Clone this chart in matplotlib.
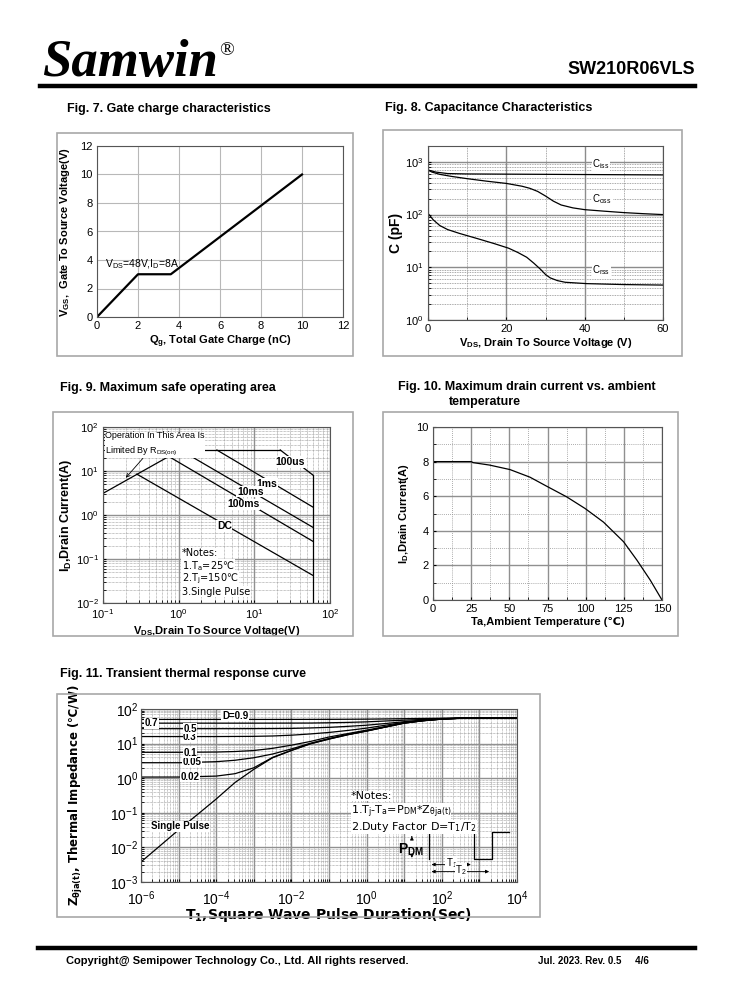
import numpy as np
import matplotlib
matplotlib.use('Agg')
import matplotlib.pyplot as plt
from matplotlib.patches import Rectangle
from matplotlib.ticker import MultipleLocator, LogLocator, NullFormatter

plt.rcParams['font.family'] = ['Liberation Sans', 'DejaVu Sans']
plt.rcParams['mathtext.default'] = 'regular'
plt.rcParams['font.size'] = 8
plt.rcParams['axes.linewidth'] = 0.8

W, H = 738, 1000

# ---- Fig. 7 gate charge ----
qg = [0, 2.0, 3.6, 10.0]
vgs = [0, 3.0, 3.0, 10.0]

# ---- Fig. 8 capacitance ----
ciss_v = [0, 2, 5, 10, 20, 30, 40, 50, 60]
ciss_c = [700, 640, 600, 590, 585, 580, 575, 570, 565]
coss_v = [0, 1, 3, 6, 10, 15, 20, 24, 26, 28, 30, 32, 34, 37, 40, 45, 50, 55, 60]
coss_c = [700, 640, 580, 530, 480, 430, 390, 345, 315, 275, 225, 180, 152, 134, 124, 116, 109, 104, 100]
crss_v = [0, 0.5, 1.3, 3, 5, 8, 13.2, 17, 20.6, 23, 25.2, 27, 28.7, 30, 31.2, 33, 35, 40.5, 50, 60]
crss_c = [105, 95, 80, 62, 52, 44, 34, 28, 23, 19, 15.5, 12, 9.2, 7.3, 6.3, 5.6, 5.2, 4.9, 4.7, 4.6]

# ---- Fig. 9 SOA ----
rds_v, rds_i = [0.1, 1.05], [3.1, 30]
top_v, top_i = [1.05, 22], [30, 30]
us100_v, us100_i = [22, 60], [30, 8]
ms1_v, ms1_i = [3.2, 60], [30, 1.5]
ms10_v, ms10_i = [1.05, 60], [30, 0.52]
ms100_v, ms100_i = [0.72, 60], [22, 0.25]
dc_v, dc_i = [0.28, 60], [8.5, 0.042]
vmax_v, vmax_i = [60, 60], [0.01, 8]

# ---- Fig. 10 derating ----
ta = [0, 25, 26.3, 37, 50.4, 63.5, 74.4, 87.6, 99.6, 111.7, 124.8, 133.6, 142.3, 150]
id_a = [8, 8, 7.94, 7.8, 7.54, 7.1, 6.58, 5.96, 5.29, 4.5, 3.37, 2.3, 1.15, 0]

# ---- Fig. 11 transient thermal ----
t_single = [1e-6, 10**-5.5, 1e-5, 10**-4.5, 1e-4, 10**-3.5, 1e-3, 10**-2.5, 1e-2, 10**-1.5,
            1e-1, 10**-0.5, 1, 10**0.5, 10, 10**1.5, 100, 10**2.5, 1e3, 1e4]
z_single = [0.0038, 0.011, 0.032, 0.089, 0.25, 0.75, 1.8, 3.9, 6.3, 9.8,
            13.5, 18, 23, 30, 39, 45.7, 51, 54, 55, 55]
t_d = [1e-6, 1e-5, 1e-4, 10**-3.5, 1e-3, 10**-2.5, 1e-2, 10**-1.5, 1e-1, 10**-0.5,
       1, 10**0.5, 10, 10**1.5, 100, 10**2.5, 1e3, 1e4]
z_d002 = [1.08, 1.08, 1.15, 1.35, 2.0, 4.0, 6.4, 9.9, 13.6, 18.1, 23.1, 30.1, 39.1, 45.8, 51, 54, 55, 55]
z_d005 = [2.8, 2.8, 3.0, 3.3, 3.9, 5.0, 7.0, 10.2, 14, 18.5, 23.5, 30.4, 39.3, 45.9, 51.1, 54, 55, 55]
z_d01 = [5.6, 5.6, 5.7, 5.9, 6.3, 7.3, 9.0, 11.5, 15.5, 19.5, 24.5, 31, 40, 46.2, 51.2, 54, 55, 55]
z_d03 = [16, 16, 16, 16.1, 16.2, 16.6, 17.5, 19, 21, 24, 28, 34, 41, 47, 52, 54.2, 55, 55]
z_d05 = [27, 27, 27, 27, 27.1, 27.2, 27.5, 28.3, 29.5, 31.5, 34, 38, 43, 48, 52, 54.3, 55, 55]
z_d07 = [39, 39, 39, 39, 39, 39.1, 39.2, 39.3, 40, 41, 42.5, 45, 47.5, 50, 53, 54.5, 55, 55]
z_d09 = [50, 50, 50, 50, 50, 50, 50.1, 50.2, 50.3, 50.6, 51, 51.7, 52.5, 53.3, 54, 54.8, 55, 55]
d_labels = ['0.02', '0.05', '0.1', '0.3', '0.5', '0.7', 'D=0.9']
pulse_t = [45, 45, 700, 700, 2150, 2150, 6000]
pulse_z = [0.0046, 0.027, 0.027, 0.0046, 0.0046, 0.027, 0.027]

fig = plt.figure(figsize=(W / 100, H / 100), dpi=100)


def ax_px(l, t, r, b):
    return fig.add_axes([l / W, 1 - b / H, (r - l) / W, (b - t) / H])


def box_px(l, t, r, b):
    fig.add_artist(Rectangle((l / W, 1 - b / H), (r - l) / W, (b - t) / H,
                             transform=fig.transFigure, fill=False, ec='#a8a8a8', lw=1.2))


def ftext(x, y, s, **kw):
    fig.text(x / W, 1 - y / H, s, **kw)


def style_ax(ax):
    for sp in ax.spines.values():
        sp.set_color('#555555')
    ax.tick_params(which='both', direction='in', length=2, labelsize=8, pad=3)


# header / footer
ftext(42, 76, 'Samwin', family=['Liberation Serif', 'DejaVu Serif'], weight='bold',
      style='italic', fontsize=38, va='baseline')
ftext(219, 55, '®', family=['Liberation Serif', 'DejaVu Serif'], fontsize=14, va='baseline')
ftext(695, 74, 'SW210R06VLS', weight='bold', fontsize=13, ha='right', va='baseline')
fig.add_artist(plt.Line2D([40 / W, 695 / W], [1 - 86 / H, 1 - 86 / H], color='black', lw=3.2))
fig.add_artist(plt.Line2D([38 / W, 695 / W], [1 - 948 / H, 1 - 948 / H], color='black', lw=3.2))
ftext(66, 964, 'Copyright@ Semipower Technology Co., Ltd. All rights reserved.',
      weight='bold', fontsize=8, va='baseline')
ftext(538, 964, 'Jul. 2023. Rev. 0.5     4/6', weight='bold', fontsize=7, va='baseline')

# titles
tkw = dict(weight='bold', fontsize=9, va='baseline')
ftext(67, 112, 'Fig. 7. Gate charge characteristics', **tkw)
ftext(385, 111, 'Fig. 8. Capacitance Characteristics', **tkw)
ftext(60, 391, 'Fig. 9. Maximum safe operating area', **tkw)
ftext(398, 390, 'Fig. 10. Maximum drain current vs. ambient', **tkw)
ftext(449, 405, 'temperature', **tkw)
ftext(60, 677, 'Fig. 11. Transient thermal response curve', **tkw)

box_px(57, 133, 353, 356)
box_px(383, 130, 682, 356)
box_px(53, 412, 353, 636)
box_px(383, 412, 678, 636)
box_px(57, 694, 540, 917)

# ---- Fig 7 ----
ax = ax_px(97, 146, 343, 317)
style_ax(ax)
ax.plot(qg, vgs, color='black', lw=1.6)
ax.set_xlim(0, 12)
ax.set_ylim(0, 12)
ax.set_xticks(range(0, 13, 2))
ax.set_yticks(range(0, 13, 2))
ax.grid(True, color='#b8b8b8', lw=0.8)
ax.tick_params(length=0)
ax.text(0.4, 3.2, 'V$_{DS}$=48V,I$_D$=8A', fontsize=7.5, va='bottom')
ax.set_xlabel('Q$_g$, Total Gate Charge (nC)', weight='bold', fontsize=8, labelpad=2)
ax.set_ylabel('V$_{GS}$,  Gate To Source Voltage(V)', weight='bold', fontsize=8, labelpad=6)

# ---- Fig 8 ----
ax = ax_px(428, 146, 663, 320)
style_ax(ax)
ax.set_yscale('log')
ax.plot(ciss_v, ciss_c, color='black', lw=0.9)
ax.plot(coss_v, coss_c, color='black', lw=0.9)
ax.plot(crss_v, crss_c, color='black', lw=0.9)
ax.set_xlim(0, 60)
ax.set_ylim(1, 2000)
ax.set_xticks([0, 20, 40, 60])
ax.xaxis.set_minor_locator(MultipleLocator(10))
ax.set_yticks([1, 10, 100, 1000])
ax.yaxis.set_minor_locator(LogLocator(base=10, subs=np.arange(2, 10), numticks=20))
ax.yaxis.set_minor_formatter(NullFormatter())
ax.grid(True, which='major', color='#8c8c8c', lw=1.0)
ax.grid(True, which='minor', color='#8c8c8c', lw=0.6, ls=(0, (1, 1)))
lkw = dict(fontsize=7, bbox=dict(fc='white', ec='none', pad=0.5))
ax.text(42, 800, 'C$_{iss}$', **lkw)
ax.text(42, 170, 'C$_{oss}$', **lkw)
ax.text(42, 7.6, 'C$_{rss}$', **lkw)
ax.set_xlabel('V$_{DS}$, Drain To Source Voltage (V)', weight='bold', fontsize=8, labelpad=1)
ax.set_ylabel('C (pF)', weight='bold', fontsize=10, labelpad=2)

# ---- Fig 9 ----
ax = ax_px(103, 427, 330, 603)
style_ax(ax)
ax.set_xscale('log')
ax.set_yscale('log')
ax.set_xlim(0.1, 100)
ax.set_ylim(0.01, 100)
ax.grid(True, which='major', color='#909090', lw=1.0)
ax.grid(True, which='minor', color='#909090', lw=0.5, ls=(0, (1, 1)))
for xs, ys in [(rds_v, rds_i), (top_v, top_i), (us100_v, us100_i), (ms1_v, ms1_i),
               (ms10_v, ms10_i), (ms100_v, ms100_i), (dc_v, dc_i), (vmax_v, vmax_i)]:
    ax.plot(xs, ys, color='black', lw=0.9)
bkw = dict(fontsize=7.5, weight='bold', ha='center', va='center',
           bbox=dict(fc='white', ec='none', pad=0.6))
ax.text(30, 16, '100us', **bkw)
ax.text(14.6, 5.0, '1ms', **bkw)
ax.text(8.8, 3.4, '10ms', **bkw)
ax.text(7.2, 1.74, '100ms', **bkw)
ax.text(4.0, 0.56, 'DC', **bkw)
ax.annotate('Operation In This Area Is\nLimited By R$_{DS(on)}$', xy=(0.2, 7.0), xytext=(0.107, 20),
            fontsize=6.5, va='bottom', linespacing=1.5,
            bbox=dict(fc='white', ec='none', pad=0.3),
            arrowprops=dict(arrowstyle='->', color='black', lw=0.6, shrinkA=0, shrinkB=0))
nkw = dict(fontsize=7, va='center', family=['DejaVu Sans'],
           bbox=dict(fc='white', ec='none', pad=0.3))
ax.text(1.1, 0.135, '*Notes:', **nkw)
ax.text(1.1, 0.068, '1.T$_a$=25℃', **nkw)
ax.text(1.1, 0.036, '2.T$_j$=150℃', **nkw)
ax.text(1.1, 0.018, '3.Single Pulse', **nkw)
ax.set_xlabel('V$_{DS}$,Drain To Source Voltage(V)', weight='bold', fontsize=8, labelpad=2)
ax.set_ylabel('I$_D$,Drain Current(A)', weight='bold', fontsize=9, labelpad=1)

# ---- Fig 10 ----
ax = ax_px(433, 427, 662, 600)
style_ax(ax)
ax.plot(ta, id_a, color='black', lw=0.9)
ax.set_xlim(0, 150)
ax.set_ylim(0, 10)
ax.set_xticks(range(0, 151, 25))
ax.set_yticks(range(0, 11, 2))
ax.xaxis.set_minor_locator(MultipleLocator(12.5))
ax.yaxis.set_minor_locator(MultipleLocator(1))
ax.grid(True, which='major', color='#909090', lw=1.0)
ax.grid(True, which='minor', color='#909090', lw=0.6, ls=(0, (1, 1.5)))
ax.set_xlabel('Ta,Ambient Temperature (℃)', weight='bold', fontsize=8, labelpad=2)
ax.set_ylabel('I$_D$,Drain Current(A)', weight='bold', fontsize=8, labelpad=4)

# ---- Fig 11 ----
ax = ax_px(141, 709, 517, 882)
style_ax(ax)
ax.set_xscale('log')
ax.set_yscale('log')
ax.set_xlim(1e-6, 1e4)
ax.set_ylim(1e-3, 1e2)
decades = [10.0 ** k for k in range(-6, 5)]
ax.set_xticks(decades)
ax.set_xticklabels(['$10^{%d}$' % k if k % 2 == 0 else '' for k in range(-6, 5)])
ax.xaxis.set_minor_locator(LogLocator(base=10, subs=np.arange(2, 10), numticks=30))
ax.xaxis.set_minor_formatter(NullFormatter())
ax.yaxis.set_minor_locator(LogLocator(base=10, subs=np.arange(2, 10), numticks=30))
ax.yaxis.set_minor_formatter(NullFormatter())
ax.tick_params(labelsize=10, pad=2)
ax.tick_params(axis='x', pad=5)
ax.grid(True, which='major', color='#909090', lw=1.0)
ax.grid(True, which='minor', color='#909090', lw=0.5, ls=(0, (1, 1)))
ax.plot(t_single, z_single, color='black', lw=0.9)
curves = [z_d002, z_d005, z_d01, z_d03, z_d05, z_d07, z_d09]
for z in curves:
    ax.plot(t_d, z, color='black', lw=0.9)
dkw = dict(fontsize=7, weight='bold', ha='center', va='center',
           bbox=dict(fc='white', ec='none', pad=0.3))
label_pos = [(10 ** -4.7, 1.08), (10 ** -4.65, 3.0), (10 ** -4.7, 5.4), (10 ** -4.7, 15.5),
             (10 ** -4.7, 27), (10 ** -5.72, 39), (10 ** -3.5, 64)]
for lab, (x, y) in zip(d_labels, label_pos):
    ax.text(x, y, lab, **dkw)
ax.text(10 ** -4.96, 0.041, 'Single Pulse', fontsize=7, weight='bold', ha='center', va='center',
        bbox=dict(fc='white', ec='none', pad=0.3))
nkw = dict(fontsize=8, va='center', family=['DejaVu Sans'],
           bbox=dict(fc='white', ec='none', pad=0.1))
ax.text(0.38, 0.3, '*Notes:', **nkw)
ax.text(0.38, 0.11, '1.T$_j$-T$_a$=P$_{DM}$*Z$_{θja(t)}$', **nkw)
ax.text(0.38, 0.038, '2.Duty Factor D=T$_1$/T$_2$', **nkw)
ax.plot(pulse_t, pulse_z, color='black', lw=0.9)
ax.text(7, 0.0085, 'P$_{DM}$', fontsize=10, weight='bold', va='center')
ax.annotate('', xy=(16, 0.025), xytext=(16, 0.017),
            arrowprops=dict(arrowstyle='-|>', color='black', lw=0.6, mutation_scale=5))
ax.annotate('', xy=(16, 0.005), xytext=(16, 0.007),
            arrowprops=dict(arrowstyle='-|>', color='black', lw=0.6, mutation_scale=5))
ax.annotate('', xy=(45, 0.0032), xytext=(700, 0.0032),
            arrowprops=dict(arrowstyle='<|-|>', color='black', lw=0.6, mutation_scale=5))
ax.annotate('', xy=(45, 0.002), xytext=(2150, 0.002),
            arrowprops=dict(arrowstyle='<|-|>', color='black', lw=0.6, mutation_scale=5))
ax.text(180, 0.0036, 'T$_1$', fontsize=7, ha='center', va='center',
        bbox=dict(fc='white', ec='none', pad=0.2))
ax.text(320, 0.0022, 'T$_2$', fontsize=7, ha='center', va='center',
        bbox=dict(fc='white', ec='none', pad=0.2))
ax.set_xlabel('T$_1$,Square Wave Pulse Duration(Sec)', weight='bold', fontsize=10, labelpad=-1,
              family=['DejaVu Sans'])
ax.set_ylabel('Z$_{θja(t)}$, Thermal Impedance (℃/W)', weight='bold', fontsize=8.5, labelpad=0,
              family=['DejaVu Sans'])
ax.yaxis.set_label_coords(-0.15, 0.5)

fig.savefig('out.png', dpi=100)
